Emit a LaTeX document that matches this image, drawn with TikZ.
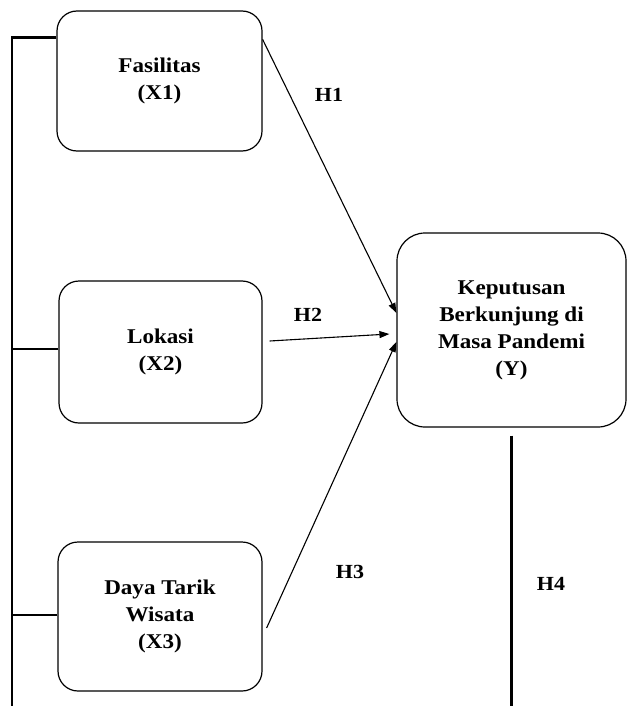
\documentclass[tikz,border=0pt]{standalone}
\usepackage{fontspec}
\setmainfont{Liberation Serif}[FakeStretch=1.1]
\usetikzlibrary{arrows.meta}
\begin{document}
\begin{tikzpicture}[x=1pt,y=-1pt,
  box/.style={draw, line width=1.2pt, rounded corners=20pt, align=center, inner sep=0pt,
    font=\fontsize{21}{27}\selectfont\bfseries},
  hyp/.style={inner sep=0pt, font=\fontsize{20}{24}\selectfont\bfseries},
  arr/.style={line width=1.1pt, -{Triangle[length=10pt,width=7pt]}},
  conn/.style={line width=2.6pt}]
\useasboundingbox (0,0) rectangle (628,706);
\node[box, minimum width=205pt, minimum height=140pt] (x1) at (159.5,81) {Fasilitas\\(X1)};
\node[box, minimum width=203pt, minimum height=142pt] (x2) at (160.5,352) {Lokasi\\(X2)};
\node[box, minimum width=204pt, minimum height=149pt] (x3) at (160,616.5) {Daya Tarik\\Wisata\\(X3)};
\node[box, rounded corners=28pt, minimum width=229pt, minimum height=194pt] (yy) at (511.5,330) {Keputusan\\Berkunjung di\\Masa Pandemi\\(Y)};
\node[hyp] (h1) at (329,95) {H1};
\node[hyp] (h2) at (308,315) {H2};
\node[hyp] (h3) at (350,572) {H3};
\node[hyp] (h4) at (551,584) {H4};
\coordinate (lb) at (12,706);
\coordinate (rb) at (512,706);
\draw[arr] ([yshift=-29pt]x1.north east) -- ([yshift=17pt]yy.west);
\draw[arr] ([xshift=7pt,yshift=11pt]x2.east) -- ([xshift=-7pt,yshift=-4pt]yy.west);
\draw[arr] ([xshift=4pt,yshift=-11.5pt]x3.east) -- ([yshift=-12pt]yy.west);
\draw[conn] ([yshift=-27pt]x1.north west) -| (lb);
\draw[conn] ([yshift=3pt]x2.west) -- ([yshift=3pt]x2.west -| lb);
\draw[conn] ([yshift=1.5pt]x3.west) -- ([yshift=1.5pt]x3.west -| lb);
\draw[conn] ([yshift=-8pt]yy.south) -- (yy.south |- rb);
\end{tikzpicture}
\end{document}
